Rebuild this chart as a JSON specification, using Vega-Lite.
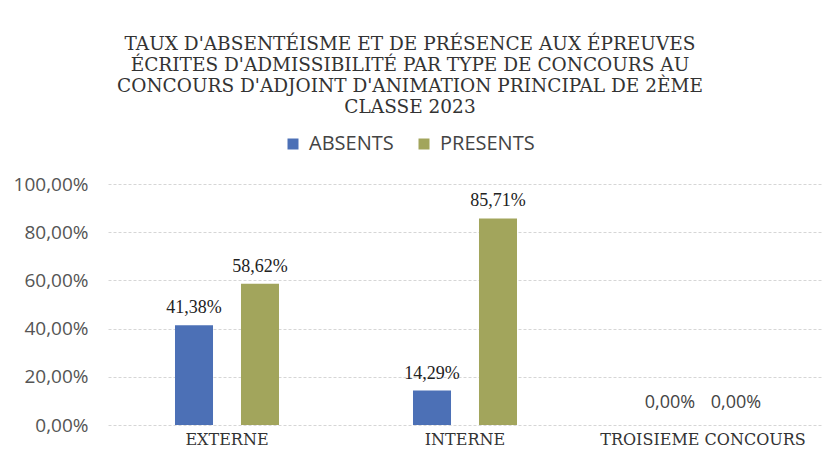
{
  "$schema": "https://vega.github.io/schema/vega-lite/v6.json",
  "autosize": {"type": "none"},
  "width": 714,
  "height": 241,
  "padding": {"left": 108, "top": 184, "right": 0, "bottom": 24},
  "background": "white",
  "config": {
    "view": {"stroke": null},
    "locale": {"number": {"decimal": ",", "thousands": " ", "grouping": [3], "currency": ["", " €"]}}
  },
  "title": {
    "text": ["TAUX D'ABSENTÉISME ET DE PRÉSENCE AUX ÉPREUVES", "ÉCRITES D'ADMISSIBILITÉ PAR TYPE DE CONCOURS AU", "CONCOURS D'ADJOINT D'ANIMATION PRINCIPAL DE 2ÈME", "CLASSE 2023"],
    "font": "DejaVu Serif",
    "fontSize": 18.5,
    "fontWeight": "normal",
    "color": "#333333",
    "lineHeight": 21,
    "anchor": "middle",
    "dx": -55,
    "offset": 18
  },
  "data": {
    "values": [
      {"concours": "EXTERNE", "serie": "ABSENTS", "taux": 0.4138},
      {"concours": "EXTERNE", "serie": "PRESENTS", "taux": 0.5862},
      {"concours": "INTERNE", "serie": "ABSENTS", "taux": 0.1429},
      {"concours": "INTERNE", "serie": "PRESENTS", "taux": 0.8571},
      {"concours": "TROISIEME CONCOURS", "serie": "ABSENTS", "taux": 0},
      {"concours": "TROISIEME CONCOURS", "serie": "PRESENTS", "taux": 0}
    ]
  },
  "encoding": {
    "x": {
      "field": "concours", "type": "nominal", "sort": null,
      "scale": {"paddingInner": 0.563, "paddingOuter": 0.2815},
      "axis": {"title": null, "labelAngle": 0, "domain": false, "ticks": false, "labelFont": "DejaVu Serif", "labelFontSize": 16, "labelColor": "#333333", "labelPadding": 6, "labelLimit": 400}
    },
    "xOffset": {"field": "serie", "type": "nominal", "sort": ["ABSENTS", "PRESENTS"], "scale": {"paddingInner": 0.424, "paddingOuter": 0}},
    "y": {
      "field": "taux", "type": "quantitative",
      "scale": {"domain": [0, 1]},
      "axis": {"title": null, "format": ".2%", "values": [0, 0.2, 0.4, 0.6, 0.8, 1], "domain": false, "ticks": false, "labelFont": "Open Sans", "labelFontSize": 19, "labelColor": "#555555", "labelPadding": 20, "gridColor": "#d6d6d6", "gridDash": [3, 2], "gridWidth": 1}
    }
  },
  "layer": [
    {
      "mark": {"type": "bar"},
      "encoding": {
        "color": {
          "field": "serie", "type": "nominal",
          "scale": {"domain": ["ABSENTS", "PRESENTS"], "range": ["#4c70b6", "#a2a55c"]},
          "legend": {"title": null, "orient": "none", "direction": "horizontal", "legendX": 175, "legendY": -50, "symbolType": "square", "symbolSize": 121, "symbolStrokeWidth": 0, "labelFont": "Open Sans", "labelFontSize": 20, "labelColor": "#444444", "columnPadding": 20, "labelOffset": 6}
        }
      }
    },
    {
      "transform": [{"filter": "datum.taux > 0"}],
      "mark": {"type": "text", "baseline": "bottom", "dy": -8, "font": "Liberation Serif", "fontSize": 18, "color": "#222222"},
      "encoding": {"text": {"field": "taux", "type": "quantitative", "format": ".2%"}}
    },
    {
      "transform": [{"filter": "datum.taux == 0"}],
      "mark": {"type": "text", "baseline": "bottom", "dy": -13, "font": "Open Sans", "fontSize": 18, "color": "#444444"},
      "encoding": {"text": {"field": "taux", "type": "quantitative", "format": ".2%"}}
    }
  ]
}
